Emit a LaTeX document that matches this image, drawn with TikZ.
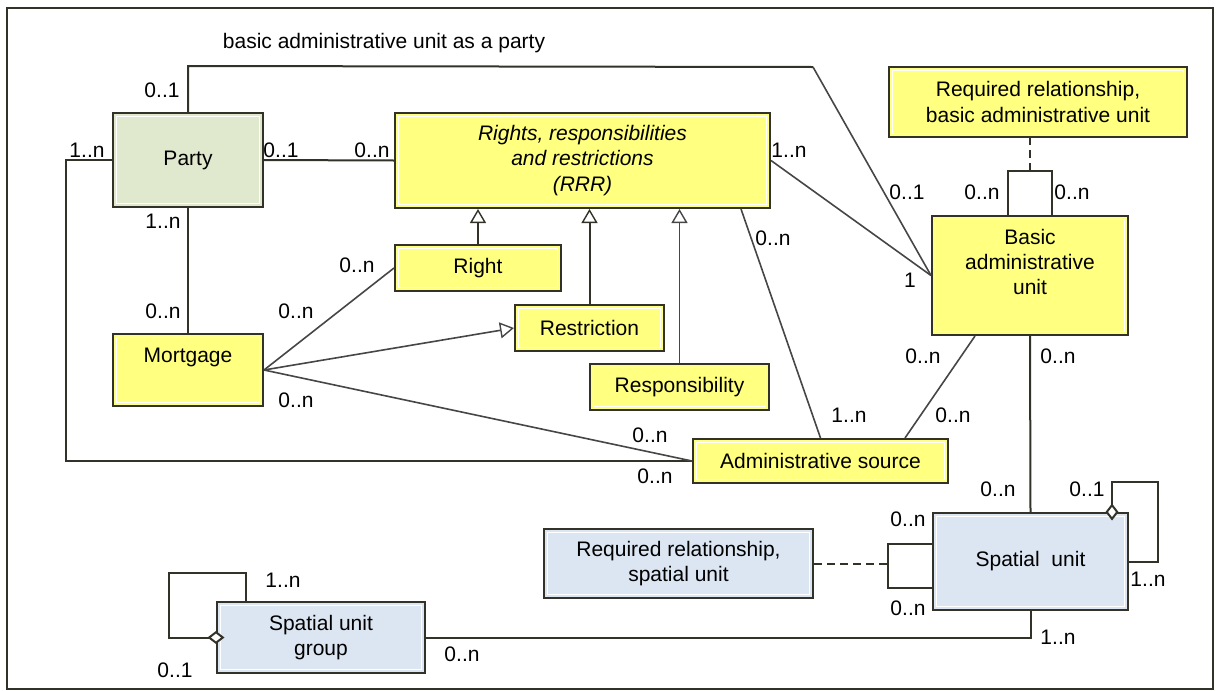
\documentclass[tikz,border=0pt]{standalone}
\usepackage{fontspec}
\setmainfont{Liberation Sans}
\usetikzlibrary{arrows.meta}

\definecolor{rrryellow}{RGB}{255,255,128}
\definecolor{partygreen}{RGB}{224,232,206}
\definecolor{spatialblue}{RGB}{220,230,242}
\definecolor{boxline}{RGB}{50,50,40}
\definecolor{linegray}{RGB}{70,70,70}

\newcommand{\boxfont}{\fontsize{10.5}{12.6}\selectfont}

\begin{document}
\begin{tikzpicture}[x=0.5pt, y=-0.5pt,
    box/.style={draw=boxline, line width=1pt, inner sep=2pt, align=center, font=\boxfont,
        path picture={\draw[white, line width=0.5pt]
            ([shift={(1.6pt,-1.6pt)}]path picture bounding box.north west) rectangle
            ([shift={(-1.6pt,1.6pt)}]path picture bounding box.south east);}},
    yellowbox/.style={box, fill=rrryellow},
    greenbox/.style={box, fill=partygreen},
    bluebox/.style={box, fill=spatialblue},
    conn/.style={draw=linegray, line width=0.8pt},
    darkconn/.style={draw=boxline, line width=1pt},
    genarrow/.style={-{Triangle[fill=white, width=8pt, length=7pt, line width=0.7pt]}},
    aggr/.style={{Diamond[fill=white, width=6.5pt, length=8.5pt]}-, shorten <=-4.25pt},
    dashline/.style={draw=boxline, line width=1pt, dash pattern=on 4pt off 2.5pt},
    mult/.style={font=\boxfont, inner sep=0pt}]
    \useasboundingbox (0,0) rectangle (1216,691);
    \draw[boxline, line width=1pt] (7,8) rectangle (1213,689);

    % classes
    \node[greenbox, minimum width=75pt, minimum height=47pt] (party) at (188,160) {Party};
    \node[yellowbox, minimum width=187.5pt, minimum height=47.5pt] (rrr) at (582.5,160.5)
        {\itshape Rights, responsibilities\\\itshape and restrictions\\\itshape (RRR)};
    \node[yellowbox, minimum width=83pt, minimum height=23pt] (right) at (478,268) {Right};
    \node[yellowbox, minimum width=74.5pt, minimum height=23pt] (restriction) at (589.5,328) {Restriction};
    \node[yellowbox, minimum width=89.5pt, minimum height=23pt] (responsibility) at (679.5,387) {Responsibility};
    \node[yellowbox, minimum width=75pt, minimum height=36pt,
        label={[font=\boxfont, yshift=6.5pt]center:Mortgage}] (mortgage) at (188,370) {};
    \node[yellowbox, minimum width=127.5pt, minimum height=22pt] (admin) at (820.5,461) {Administrative source};
    \node[yellowbox, minimum width=98pt, minimum height=59.5pt,
        label={[font=\boxfont, align=center, yshift=6.75pt]center:Basic\\administrative\\unit}] (bau) at (1030,275.5) {};
    \node[yellowbox, minimum width=149pt, minimum height=35pt] (reqbau) at (1038,102)
        {Required relationship,\\basic administrative unit};
    \node[bluebox, minimum width=97.5pt, minimum height=48.5pt] (su) at (1030.5,561.5) {Spatial\ \ unit};
    \node[bluebox, minimum width=134.5pt, minimum height=34.5pt] (reqsu) at (678.5,563.5)
        {Required relationship,\\spatial unit};
    \node[bluebox, minimum width=104pt, minimum height=35.5pt] (sug) at (321,637.5)
        {Spatial unit\\group};

    \node[mult] (title) at (384,43) {basic administrative unit as a party};

    % associations
    \draw[darkconn] (party.east) -- (rrr.west);
    \draw[darkconn] (party.north) -- ++(0,-46) -- (813,67);
    \draw[conn] (813,67) -- (bau.west);
    \draw[conn] (rrr.east) -- (bau.west);
    \draw[darkconn] (party.west) -- ++(-46,0) |- (admin.west);
    \draw[darkconn] (party.south) -- (mortgage.north);
    \draw[conn] (mortgage.east) -- (right.west);
    \draw[conn, genarrow] (mortgage.east) -- (restriction.west);
    \draw[conn] (mortgage.east) -- (admin.west);
    \draw[conn] ([xshift=-15pt]rrr.south east) -- (admin.north);
    \draw[conn] ([xshift=-27.5pt]bau.south) -- ([xshift=-22pt]admin.north east);
    \draw[darkconn] (bau.south) -- (su.north);
    \draw[darkconn] (sug.east) -| (su.south);

    % generalizations
    \draw[darkconn, genarrow] (right.north) -- (right.north |- rrr.south);
    \draw[darkconn, genarrow] (restriction.north) -- (restriction.north |- rrr.south);
    \draw[conn, genarrow] (responsibility.north) -- (responsibility.north |- rrr.south);

    % self associations
    \draw[darkconn] ([xshift=-11pt]bau.north) -- ++(0,-44) -- ++(22,0) coordinate (bauloop)
        -- ++(22,0) -- ++(0,44);
    \draw[dashline] (bauloop) -- (bauloop |- reqbau.south);
    \draw[darkconn, aggr] ([xshift=-8.5pt]su.north east) -- ++(0,-30) -- ++(46,0) |- (su.east);
    \draw[darkconn] ([yshift=9pt]su.west) -- ++(-44,0) coordinate (suloop)
        |- ([yshift=-13pt]su.west);
    \draw[dashline] (reqsu.east) -- (reqsu.east -| suloop);
    \draw[darkconn, aggr] (sug.west) -- ++(-47,0) -- ++(0,-65) -| ([xshift=15pt]sug.north west);

    % multiplicities
    \foreach \px/\py/\lbl [count=\i] in {
        162/90/0..1, 87/150/1..n, 281/150/0..1, 372/150/0..n, 163/221/1..n,
        163/311/0..n, 296/311/0..n, 357/265/0..n, 296/400/0..n, 650/435/0..n,
        655/476/0..n, 773/238/0..n, 849/415/1..n, 923/356/0..n, 953/415/0..n,
        1058/356/0..n, 998/489/0..n, 1087/489/0..1, 908/519/0..n, 908/608/0..n,
        1148/579/1..n, 1058/637/1..n, 462/654/0..n, 283/580/1..n, 175/670/0..1,
        907/192/0..1, 789/150/1..n, 982/192/0..n, 1072/192/0..n, 910/280/1}
        \node[mult] (m\i) at (\px,\py) {\lbl};
\end{tikzpicture}
\end{document}
